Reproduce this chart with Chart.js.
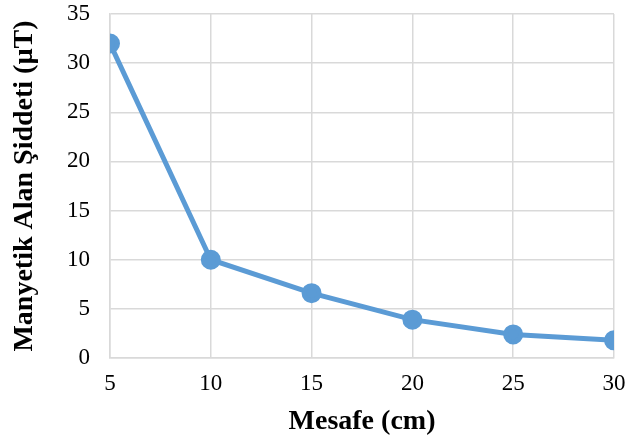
<!DOCTYPE html>
<html>
<head>
<meta charset="utf-8">
<script src="https://cdn.jsdelivr.net/npm/chart.js@4"></script>
<style>
  html, body { margin: 0; padding: 0; background: #fff; }
  #wrap { width: 627px; height: 439px; }
</style>
</head>
<body>
<div id="wrap"><canvas id="chart"></canvas></div>
<script>
// distance (cm) and field strength (µT)
const distances = [5, 10, 15, 20, 25, 30];
const fieldValues = [32, 10, 6.6, 3.9, 2.4, 1.8];

const lineColor = '#5B9BD5';
const gridColor = '#d9d9d9';
const serif = '"Liberation Serif", "Times New Roman", serif';

const ctx = document.getElementById('chart').getContext('2d');
new Chart(ctx, {
    type: 'line',
    data: {
        datasets: [{
            data: distances.map((d, i) => ({ x: d, y: fieldValues[i] })),
            borderColor: lineColor,
            backgroundColor: lineColor,
            borderWidth: 5,
            pointRadius: 7.5,
            pointHoverRadius: 7.5,
            tension: 0
        }]
    },
    options: {
        responsive: true,
        maintainAspectRatio: false,
        animation: false,
        layout: { padding: { top: 14, right: 13, left: 8, bottom: 0 } },
        plugins: {
            legend: { display: false },
            tooltip: { enabled: false }
        },
        scales: {
            x: {
                type: 'linear',
                min: 5,
                max: 30,
                ticks: {
                    stepSize: 5,
                    color: '#000',
                    padding: 12,
                    font: { family: serif, size: 23 }
                },
                grid: { color: gridColor, lineWidth: 1.5, drawTicks: false },
                border: { color: gridColor, width: 1.5 },
                title: {
                    display: true,
                    text: 'Mesafe (cm)',
                    color: '#000',
                    padding: 0,
                    font: { family: serif, size: 28, weight: 'bold' }
                },
                afterFit: scale => {
                    scale.height = 81;
                    scale.paddingLeft = 0;
                    scale.paddingRight = 0;
                }
            },
            y: {
                min: 0,
                max: 35,
                ticks: {
                    stepSize: 5,
                    color: '#000',
                    padding: 20,
                    font: { family: serif, size: 23 }
                },
                grid: { color: gridColor, lineWidth: 1.5, drawTicks: false },
                border: { color: gridColor, width: 1.5 },
                title: {
                    display: true,
                    text: 'Manyetik Alan Şiddeti (µT)',
                    color: '#000',
                    padding: 0,
                    font: { family: serif, size: 28, weight: 'bold' }
                },
                afterFit: scale => {
                    scale.width = 102;
                    scale.paddingTop = 0;
                    scale.paddingBottom = 0;
                }
            }
        }
    }
});
</script>
</body>
</html>
